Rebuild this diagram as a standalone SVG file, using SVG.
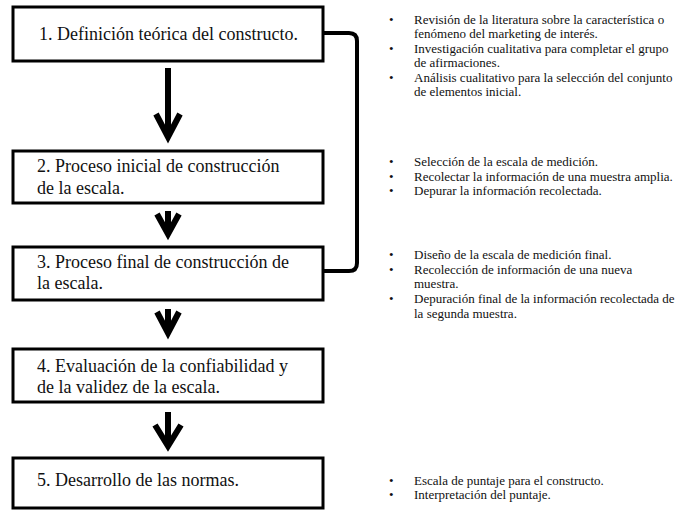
<svg xmlns="http://www.w3.org/2000/svg" width="696" height="512" viewBox="0 0 696 512">
<style>
.box{fill:#fff;stroke:#000;stroke-width:3}
.bt{font-family:"Liberation Serif","Times New Roman",serif;font-size:18px;fill:#111}
.st{font-family:"Liberation Serif","Times New Roman",serif;font-size:13px;fill:#111}
.arr{fill:none;stroke:#000;stroke-width:6;stroke-linejoin:miter}
.fb{fill:none;stroke:#000;stroke-width:4}
</style>
<rect width="696" height="512" fill="#fff"/>
<g id="connectors">
<path class="arr" d="M168,68V136M156,114L168,137L180,114"/>
<path class="arr" d="M168,211V232M157,214L168,234L179,214"/>
<path class="arr" d="M168,309V331M157,312L168,333L179,312"/>
<path class="arr" d="M168,412V444M155,425L168,446L181,425"/>
<path class="fb" d="M323,33H349Q357,33 357,41V263Q357,271 349,271H323"/>
</g>
<g id="n1">
<rect class="box" x="13" y="7" width="310" height="54"/>
<text class="bt" x="39" y="40">1. Definición teórica del constructo.</text>
</g>
<g id="n2">
<rect class="box" x="13" y="151" width="310" height="52"/>
<text class="bt" x="37" y="172">2. Proceso inicial de construcción</text>
<text class="bt" x="37" y="194">de la escala.</text>
</g>
<g id="n3">
<rect class="box" x="13" y="247" width="310" height="53"/>
<text class="bt" x="37" y="268">3. Proceso final de construcción de</text>
<text class="bt" x="37" y="289">la escala.</text>
</g>
<g id="n4">
<rect class="box" x="13" y="349" width="310" height="53"/>
<text class="bt" x="37" y="372">4. Evaluación de la confiabilidad y</text>
<text class="bt" x="37" y="393">de la validez de la escala.</text>
</g>
<g id="n5">
<rect class="box" x="13" y="458" width="310" height="50"/>
<text class="bt" x="37" y="486">5. Desarrollo de las normas.</text>
</g>
<g id="notes1">
<text class="st" x="389" y="24">•</text><text class="st" x="414" y="24">Revisión de la literatura sobre la característica o</text>
<text class="st" x="414" y="38">fenómeno del marketing de interés.</text>
<text class="st" x="389" y="53">•</text><text class="st" x="414" y="53">Investigación cualitativa para completar el grupo</text>
<text class="st" x="414" y="67">de afirmaciones.</text>
<text class="st" x="389" y="82">•</text><text class="st" x="414" y="82">Análisis cualitativo para la selección del conjunto</text>
<text class="st" x="414" y="96">de elementos inicial.</text>
</g>
<g id="notes2">
<text class="st" x="389" y="166">•</text><text class="st" x="414" y="166">Selección de la escala de medición.</text>
<text class="st" x="389" y="181">•</text><text class="st" x="414" y="181">Recolectar la información de una muestra amplia.</text>
<text class="st" x="389" y="195">•</text><text class="st" x="414" y="195">Depurar la información recolectada.</text>
</g>
<g id="notes3">
<text class="st" x="389" y="259">•</text><text class="st" x="414" y="259">Diseño de la escala de medición final.</text>
<text class="st" x="389" y="274">•</text><text class="st" x="414" y="274">Recolección de información de una nueva</text>
<text class="st" x="414" y="288">muestra.</text>
<text class="st" x="389" y="303">•</text><text class="st" x="414" y="303">Depuración final de la información recolectada de</text>
<text class="st" x="414" y="318">la segunda muestra.</text>
</g>
<g id="notes5">
<text class="st" x="389" y="485">•</text><text class="st" x="414" y="485">Escala de puntaje para el constructo.</text>
<text class="st" x="389" y="499">•</text><text class="st" x="414" y="499">Interpretación del puntaje.</text>
</g>
</svg>
